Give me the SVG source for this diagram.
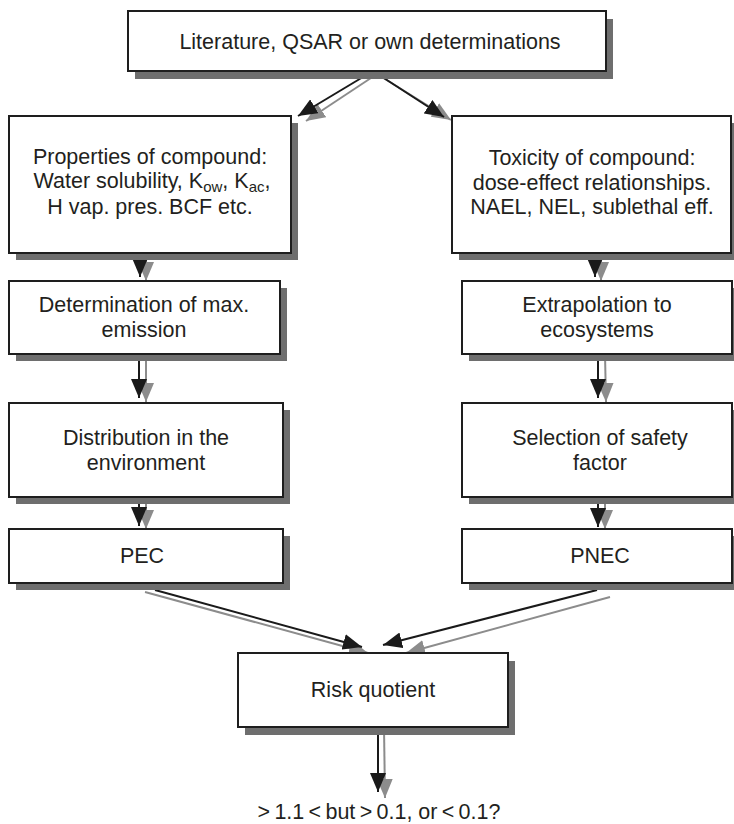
<svg xmlns="http://www.w3.org/2000/svg" width="734" height="824" viewBox="0 0 734 824">
<style>
.box{fill:#fff;stroke:#1e1e1e;stroke-width:2}
.sh{fill:#6e6e6e}
.t{font-family:"Liberation Sans",Arial,Helvetica,sans-serif;font-size:21.5px;fill:#231f20;text-anchor:middle}
.bl{stroke:#1a1a1a;stroke-width:2;fill:none}
.gr{stroke:#8c8c8c;stroke-width:2;fill:none}
</style>
<defs>
<marker id="ab" markerUnits="userSpaceOnUse" markerWidth="20" markerHeight="16" refX="19" refY="8" orient="auto" viewBox="0 0 20 16"><path d="M0,0 L19,8 L0,16 z" fill="#1a1a1a"/></marker>
<marker id="ag" markerUnits="userSpaceOnUse" markerWidth="20" markerHeight="16" refX="19" refY="8" orient="auto" viewBox="0 0 20 16"><path d="M0,0 L19,8 L0,16 z" fill="#8c8c8c"/></marker>
</defs>
<g id="connectors">
<line class="gr" x1="377" y1="74" x2="306" y2="121" marker-end="url(#ag)"/>
<line class="bl" x1="373" y1="71" x2="298" y2="116" marker-end="url(#ab)"/>
<line class="gr" x1="377" y1="74" x2="451" y2="120" marker-end="url(#ag)"/>
<line class="bl" x1="373" y1="71" x2="444" y2="117" marker-end="url(#ab)"/>
<line class="gr" x1="146" y1="253" x2="146" y2="281" marker-end="url(#ag)"/>
<line class="bl" x1="140" y1="253" x2="140" y2="277" marker-end="url(#ab)"/>
<line class="gr" x1="601" y1="253" x2="601" y2="281" marker-end="url(#ag)"/>
<line class="bl" x1="595" y1="253" x2="595" y2="277" marker-end="url(#ab)"/>
<line class="gr" x1="146" y1="354" x2="146" y2="402" marker-end="url(#ag)"/>
<line class="bl" x1="139" y1="354" x2="139" y2="398" marker-end="url(#ab)"/>
<line class="gr" x1="605" y1="354" x2="606" y2="402" marker-end="url(#ag)"/>
<line class="bl" x1="598" y1="354" x2="598" y2="398" marker-end="url(#ab)"/>
<line class="gr" x1="146" y1="497" x2="146" y2="529" marker-end="url(#ag)"/>
<line class="bl" x1="139" y1="497" x2="139" y2="526" marker-end="url(#ab)"/>
<line class="gr" x1="605" y1="497" x2="605" y2="529" marker-end="url(#ag)"/>
<line class="bl" x1="598" y1="497" x2="598" y2="527" marker-end="url(#ab)"/>
<line class="gr" x1="145" y1="592" x2="368" y2="653" marker-end="url(#ag)"/>
<line class="bl" x1="155" y1="590" x2="362" y2="647" marker-end="url(#ab)"/>
<line class="gr" x1="610" y1="597" x2="406" y2="653" marker-end="url(#ag)"/>
<line class="bl" x1="597" y1="590" x2="383" y2="645" marker-end="url(#ab)"/>
<line class="gr" x1="384" y1="727" x2="385" y2="798" marker-end="url(#ag)"/>
<line class="bl" x1="378" y1="727" x2="378" y2="792" marker-end="url(#ab)"/>
</g>
<g id="n-literature">
<rect class="sh" x="135" y="19" width="478" height="60"/>
<rect class="box" x="128" y="11" width="478" height="60"/>
<text class="t" x="370" y="49">Literature, QSAR or own determinations</text>
</g>
<g id="n-properties">
<rect class="sh" x="16" y="123" width="282" height="137"/>
<rect class="box" x="9" y="116" width="282" height="137"/>
<text class="t" x="150" y="164">Properties of compound:</text>
<text class="t" x="152" y="188">Water solubility, K<tspan dy="4" font-size="15">ow</tspan><tspan dy="-4">, K</tspan><tspan dy="4" font-size="15">ac</tspan><tspan dy="-4">,</tspan></text>
<text class="t" x="150" y="214">H vap. pres. BCF etc.</text>
</g>
<g id="n-toxicity">
<rect class="sh" x="459" y="123" width="279" height="137"/>
<rect class="box" x="452" y="116" width="279" height="137"/>
<text class="t" x="592" y="165">Toxicity of compound:</text>
<text class="t" x="592" y="190">dose-effect relationships.</text>
<text class="t" x="592" y="214">NAEL, NEL, sublethal eff.</text>
</g>
<g id="n-emission">
<rect class="sh" x="16" y="288" width="271" height="73"/>
<rect class="box" x="9" y="281" width="271" height="73"/>
<text class="t" x="144" y="312">Determination of max.</text>
<text class="t" x="144" y="337">emission</text>
</g>
<g id="n-extrapolation">
<rect class="sh" x="469" y="288" width="270" height="73"/>
<rect class="box" x="462" y="281" width="270" height="73"/>
<text class="t" x="597" y="312">Extrapolation to</text>
<text class="t" x="597" y="337">ecosystems</text>
</g>
<g id="n-distribution">
<rect class="sh" x="16" y="410" width="274" height="94"/>
<rect class="box" x="9" y="403" width="274" height="94"/>
<text class="t" x="146" y="445">Distribution in the</text>
<text class="t" x="146" y="470">environment</text>
</g>
<g id="n-safety">
<rect class="sh" x="469" y="410" width="270" height="94"/>
<rect class="box" x="462" y="403" width="270" height="94"/>
<text class="t" x="600" y="445">Selection of safety</text>
<text class="t" x="600" y="470">factor</text>
</g>
<g id="n-pec">
<rect class="sh" x="16" y="536" width="274" height="54"/>
<rect class="box" x="9" y="529" width="274" height="54"/>
<text class="t" x="142" y="563">PEC</text>
</g>
<g id="n-pnec">
<rect class="sh" x="469" y="536" width="270" height="54"/>
<rect class="box" x="462" y="529" width="270" height="54"/>
<text class="t" x="600" y="563">PNEC</text>
</g>
<g id="n-risk">
<rect class="sh" x="245" y="661" width="270" height="74"/>
<rect class="box" x="238" y="653" width="270" height="74"/>
<text class="t" x="373" y="697">Risk quotient</text>
</g>
<g id="n-result">
<text class="t" x="379" y="819">&gt;&#8201;1.1&#8201;&lt;&#8201;but&#8201;&gt;&#8201;0.1, or&#8201;&lt;&#8201;0.1?</text>
</g>
</svg>
